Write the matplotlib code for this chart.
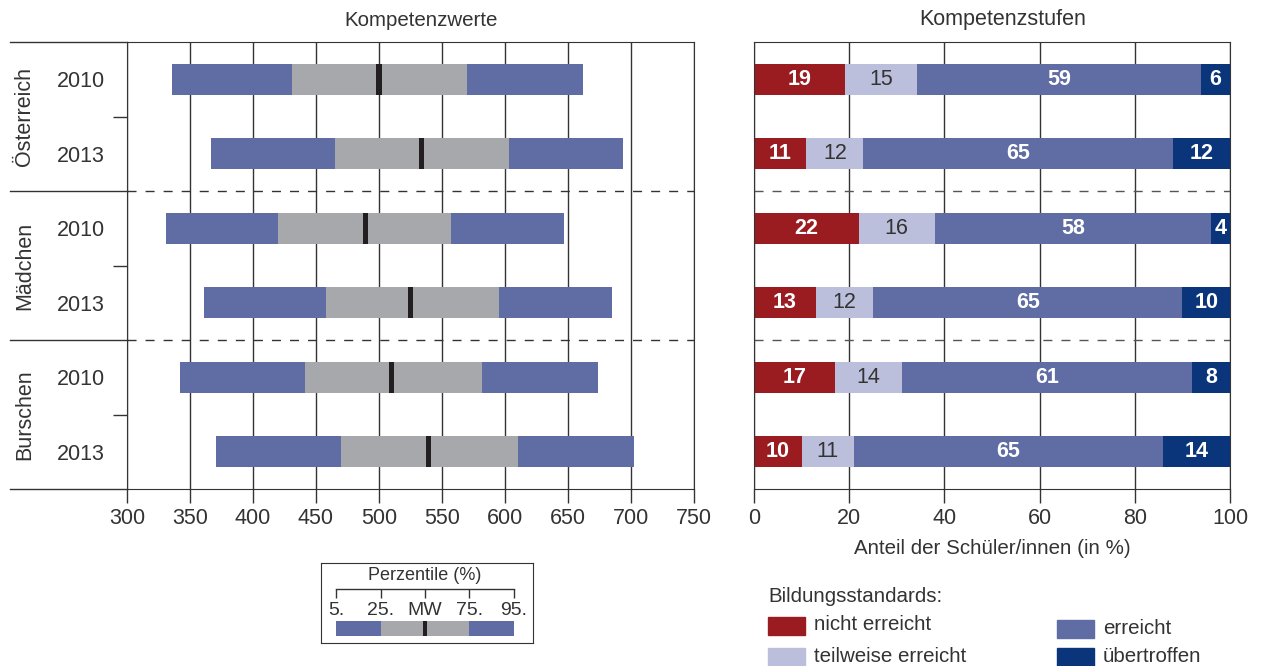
import matplotlib.pyplot as plt
import numpy as np

plt.rcParams['font.family'] = ['Liberation Sans', 'DejaVu Sans']
plt.rcParams['font.size'] = 15
plt.rcParams['text.color'] = '#333333'
plt.rcParams['axes.labelcolor'] = '#333333'
plt.rcParams['xtick.color'] = '#333333'
plt.rcParams['ytick.color'] = '#333333'
plt.rcParams['axes.edgecolor'] = '#333333'

# data
groups = ['Österreich', 'Mädchen', 'Burschen']
years = ['2010', '2013', '2010', '2013', '2010', '2013']

# Kompetenzwerte (percentiles and mean)
p5 = [336, 367, 331, 361, 342, 371]
p25 = [431, 465, 420, 458, 441, 470]
mw = [500, 534, 489, 525, 510, 539]
p75 = [570, 603, 557, 595, 582, 610]
p95 = [662, 694, 647, 685, 674, 702]

# Kompetenzstufen (in %)
stufen = ['nicht erreicht', 'teilweise erreicht', 'erreicht', 'übertroffen']
nicht_erreicht = [19, 11, 22, 13, 17, 10]
teilweise = [15, 12, 16, 12, 14, 11]
erreicht = [59, 65, 58, 65, 61, 65]
uebertroffen = [6, 12, 4, 10, 8, 14]

key_labels = ['5.', '25.', 'MW', '75.', '95.']

BLUE = '#5f6da4'
GREY = '#a7a8ab'
BLACK = '#231f20'
RED = '#9a1b20'
LAV = '#bbbfdb'
NAVY = '#0b357a'
DARK = '#333333'
stufen_colors = [RED, LAV, BLUE, NAVY]
stufen_text = [('white', 'bold'), (DARK, 'normal'), ('white', 'bold'), ('white', 'bold')]

W, H = 1271, 666
fig = plt.figure(figsize=(W / 100, H / 100), dpi=100)


def px_box(x0, x1, y0, y1):
    return [x0 / W, 1 - y1 / H, (x1 - x0) / W, (y1 - y0) / H]


ax1 = fig.add_axes(px_box(127, 694, 42, 489))
ax2 = fig.add_axes(px_box(754, 1230, 42, 489))

rows = np.arange(len(years))
bh = 0.42

# left chart
ax1.barh(rows, np.subtract(p25, p5), left=p5, height=bh, color=BLUE, zorder=2)
ax1.barh(rows, np.subtract(p75, p25), left=p25, height=bh, color=GREY, zorder=2)
ax1.barh(rows, np.subtract(p95, p75), left=p75, height=bh, color=BLUE, zorder=2)
ax1.barh(rows, 4, left=np.array(mw) - 2, height=bh, color=BLACK, zorder=3)
ax1.set_xlim(300, 750)
ax1.set_ylim(5.5, -0.5)
ax1.set_xticks(range(300, 751, 50))
ax1.grid(axis='x', color=DARK, lw=1)
ax1.set_axisbelow(True)
ax1.set_yticks(rows, years)
ax1.set_yticks([0.5, 2.5, 4.5], minor=True)
ax1.tick_params(axis='y', which='major', length=0, pad=16, labelsize=15.5)
ax1.tick_params(axis='y', which='minor', length=10, width=1, direction='out')
ax1.tick_params(axis='x', length=10, width=1, pad=4, labelsize=15.5)
ax1.text(0.519, 1.0 + 22 / 447, 'Kompetenzwerte', transform=ax1.transAxes,
         ha='center', va='center', fontsize=14.8)

yt = ax1.get_yaxis_transform()
for y in [-0.5, 1.5, 3.5, 5.5]:
    ax1.plot([-0.206, 0], [y, y], transform=yt, clip_on=False, color=DARK, lw=1)
for y in [1.5, 3.5]:
    ax1.axhline(y, color=DARK, lw=1, ls=(0, (6.5, 6.5)))
for i, g in enumerate(groups):
    ax1.text(-0.18, 2 * i + 0.5, g, transform=yt, rotation=90,
             ha='center', va='center', fontsize=15.5)

# right chart
shares = np.array([nicht_erreicht, teilweise, erreicht, uebertroffen], dtype=float)
shares_norm = shares / shares.sum(axis=0) * 100
left = np.zeros(len(years))
for k in range(len(stufen)):
    ax2.barh(rows, shares_norm[k], left=left, height=bh, color=stufen_colors[k], zorder=2)
    tc, tw = stufen_text[k]
    for r in rows:
        ax2.text(left[r] + shares_norm[k][r] / 2, r, str(int(shares[k][r])),
                 ha='center', va='center', color=tc, fontweight=tw, fontsize=15.5, zorder=4)
    left += shares_norm[k]

ax2.set_xlim(0, 100)
ax2.set_ylim(5.5, -0.5)
ax2.set_xticks(range(0, 101, 20))
ax2.grid(axis='x', color=DARK, lw=1)
ax2.set_axisbelow(True)
ax2.set_yticks([])
ax2.tick_params(axis='x', length=10, width=1, pad=4, labelsize=15.5)
for y in [1.5, 3.5]:
    ax2.axhline(y, color='#555555', lw=1, ls=(0, (6.5, 6.5)))
ax2.text(0.523, 1.0 + 22 / 447, 'Kompetenzstufen', transform=ax2.transAxes,
         ha='center', va='center', fontsize=15.5)
ax2.set_xlabel('Anteil der Schüler/innen (in %)', fontsize=14.8, labelpad=7)

# percentile key
axk = fig.add_axes(px_box(321, 533, 563, 643))
axk.set_xlim(-0.34, 4.43)
axk.set_ylim(0, 1)
axk.set_xticks([])
axk.set_yticks([])
for s in axk.spines.values():
    s.set_color(DARK)
kx = np.arange(len(key_labels))
axk.text(2, 0.85, 'Perzentile (%)', ha='center', va='center', fontsize=13)
axk.plot([kx[0], kx[-1]], [0.675, 0.675], color=DARK, lw=1)
axk.vlines(kx, 0.5625, 0.675, color=DARK, lw=1)
for x, lab in zip(kx, key_labels):
    axk.text(x, 0.41, lab, ha='center', va='center', fontsize=14)
axk.barh(0.18, [1, 2, 1], left=[0, 1, 3], height=0.19, color=[BLUE, GREY, BLUE])
axk.barh(0.18, 0.11, left=2 - 0.055, height=0.19, color=BLACK)

# Bildungsstandards legend
fig.text(768 / W, 1 - 597 / H, 'Bildungsstandards:', ha='left', va='center', fontsize=14.8)
leg_pos = [(768, 617), (768, 648), (1057, 620), (1057, 648)]
for (x0, y0), lab, col in zip(leg_pos, stufen, stufen_colors):
    fig.patches.append(plt.Rectangle((x0 / W, 1 - (y0 + 18) / H), 37 / W, 18 / H,
                                     transform=fig.transFigure, color=col))
    fig.text((x0 + 46) / W, 1 - (y0 + 8) / H, lab, ha='left', va='center', fontsize=14.8)

fig.savefig('out.png', dpi=100)
